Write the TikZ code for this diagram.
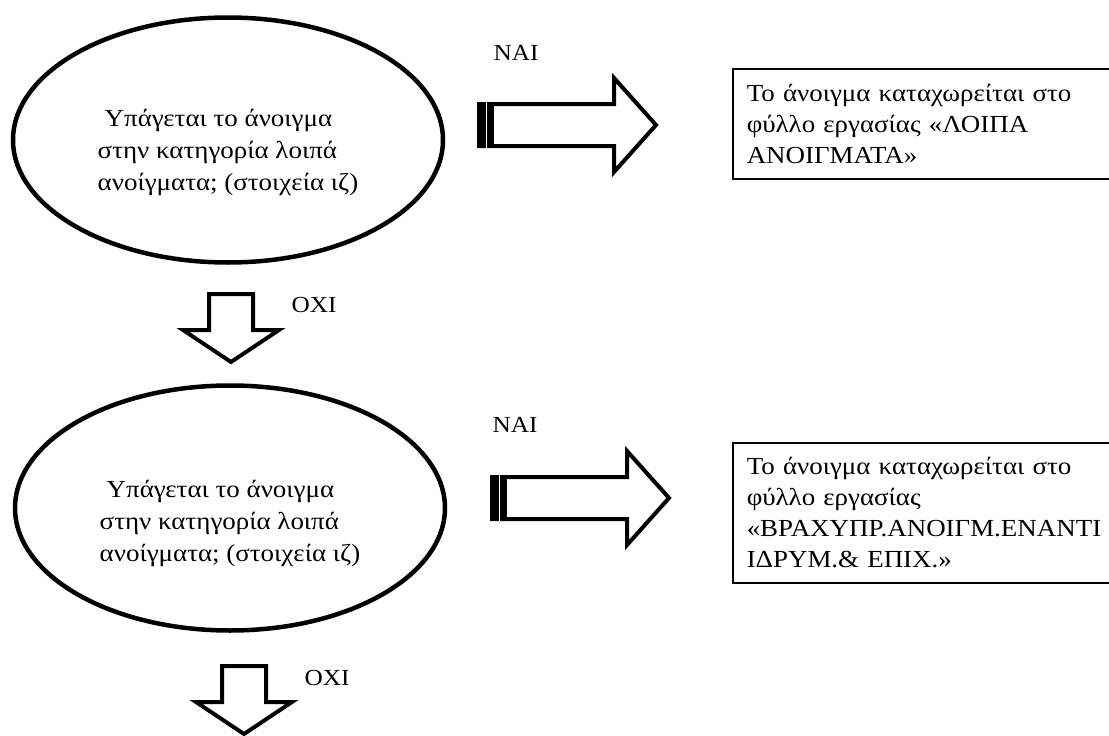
\documentclass[tikz,border=0pt]{standalone}
\usepackage{fontspec}
\setmainfont[FakeStretch=1.1]{Liberation Serif}
\usetikzlibrary{shapes.geometric}

\tikzset{
  question/.style={ellipse, draw, line width=4.5pt, minimum width=430pt, minimum height=245pt, inner sep=0pt},
  qtext/.style={align=left, inner sep=0pt, font=\fontsize{24.5}{32}\selectfont},
  result/.style={draw, line width=1.5pt, anchor=north west, text width=355pt, inner xsep=14pt, align=left, font=\fontsize{24.5}{31}\selectfont},
  answer/.style={inner sep=0pt, font=\fontsize{23}{27}\selectfont},
  blockarrow/.style={draw, line width=4pt, line join=miter, fill=white},
}

\begin{document}
\begin{tikzpicture}[x=1pt,y=-1pt]
\clip (0,0) rectangle (1109,736);

% questions
\node[question] (q1) at (228,140) {};
\node[question] (q2) at (230,508) {};
\node[qtext] (q1txt) at ([yshift=-12pt]q1.center) {\hspace{7pt}Υπάγεται το άνοιγμα\\στην κατηγορία λοιπά\\ανοίγματα; (στοιχεία ιζ)};
\node[qtext] (q2txt) at ([yshift=-15pt]q2.center) {\hspace{7pt}Υπάγεται το άνοιγμα\\στην κατηγορία λοιπά\\ανοίγματα; (στοιχεία ιζ)};

% results
\node[result, minimum height=110pt] (r1) at (732,68) {Το άνοιγμα καταχωρείται στο\\φύλλο εργασίας «ΛΟΙΠΑ\\ΑΝΟΙΓΜΑΤΑ»};
\node[result, minimum height=140pt] (r2) at (732,442) {Το άνοιγμα καταχωρείται στο\\φύλλο εργασίας\\«ΒΡΑΧΥΠΡ.ΑΝΟΙΓΜ.ΕΝΑΝΤΙ\\ΙΔΡΥΜ.\& ΕΠΙΧ.»};

% yes / no
\node[answer] (yes1) at (516,53) {ΝΑΙ};
\node[answer] (yes2) at (515,425) {ΝΑΙ};
\node[answer] (no1) at (314,305) {ΟΧΙ};
\node[answer] (no2) at (327,678) {ΟΧΙ};

% block arrows
\foreach \dx/\dy in {0/0, 13/373} {
  \begin{scope}[shift={(\dx,\dy)}]
    \draw[blockarrow] (479,104) -- (614,104) -- (614,78) -- (656,125) -- (614,172) -- (614,146) -- (479,146) -- cycle;
    \fill (477,102) rectangle (494,148);
    \draw[white, line width=0.8pt] (486,102) -- (486,148);
  \end{scope}
}
\foreach \dx/\dy in {0/0, 13/372} {
  \draw[blockarrow, shift={(\dx,\dy)}] (209,294) -- (253,294) -- (253,330) -- (279,330) -- (231,362) -- (183,330) -- (209,330) -- cycle;
}
\end{tikzpicture}
\end{document}
